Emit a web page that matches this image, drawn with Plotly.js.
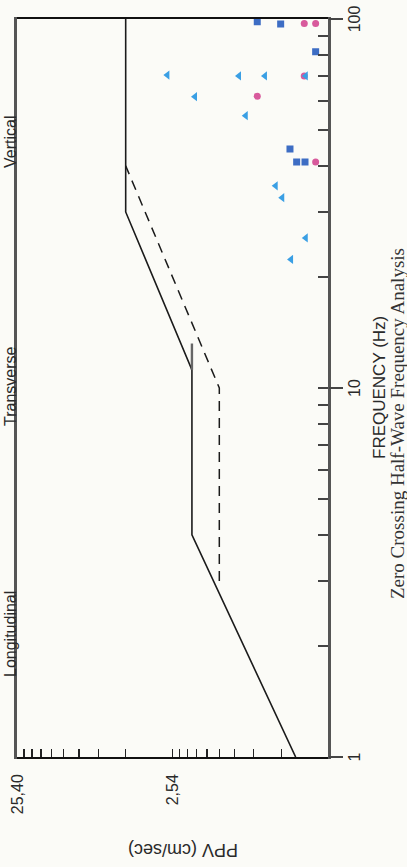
<!DOCTYPE html>
<html>
<head>
<meta charset="utf-8">
<script src="https://cdn.plot.ly/plotly-3.0.1.min.js"></script>
<style>
  html, body { margin: 0; padding: 0; overflow: hidden; background: #fbfbf7; width: 407px; height: 867px; }
  #chart { position: absolute; left: 0; top: 0; width: 867px; height: 407px;
           transform-origin: 0 0; transform: translate(0px, 867px) rotate(-90deg); }
</style>
</head>
<body>
<div id="chart"></div>
<script>
// ---- data (frequency in Hz, PPV in cm/sec) ----
const freqTickVals = [1, 2, 3, 4, 5, 6, 7, 8, 9, 10, 20, 30, 40, 50, 60, 70, 80, 90, 100];
const freqTickText = ['1', '', '', '', '', '', '', '', '', '10', '', '', '', '', '', '', '', '', '100'];
const freqMajorVals = [1, 10, 100];

const ppvTickVals = [25.4, 22.86, 20.32, 17.78, 15.24, 12.7, 10.16, 7.62, 5.08,
                     2.54, 2.286, 2.032, 1.778, 1.524, 1.27, 1.016, 0.762, 0.508];
const ppvTickText = ['25,40', '', '', '', '', '', '', '', '',
                     '2,54', '', '', '', '', '', '', '', ''];

const solidFreq = [1, 4, 11.2, 30, 100];
const solidPPV  = [0.41, 1.905, 1.905, 5.08, 5.08];
const spurFreq  = [11.2, 13.2];
const spurPPV   = [1.905, 1.905];
const dashFreq  = [3, 10, 40];
const dashPPV   = [1.27, 1.27, 5.08];

const squareFreq = [98.3, 96.9, 81.5, 44.4, 41.0, 41.0];
const squarePPV  = [0.724, 0.512, 0.305, 0.446, 0.404, 0.357];
const circleFreq = [97.2, 97.2, 61.8, 70.1, 41.0];
const circlePPV  = [0.361, 0.305, 0.724, 0.361, 0.305];
const triFreq = [70.5, 70.1, 70.1, 70.1, 61.6, 54.7, 35.3, 32.8, 25.5, 22.3];
const triPPV  = [2.74, 0.949, 0.646, 0.353, 1.82, 0.859, 0.551, 0.500, 0.353, 0.439];

const components = ['Longitudinal', 'Transverse', 'Vertical'];
const componentPos = [0.167, 0.503, 0.834];

const xTitle = 'FREQUENCY (Hz)';
const xSubTitle = 'Zero Crossing Half-Wave Frequency Analysis';
const yTitle = 'PPV (cm/sec)';

// ---- chart ----
const xRange = [Math.log10(1), Math.log10(100)];
const yRange = [Math.log10(0.254), Math.log10(25.4)];

const traces = [
  { x: solidFreq, y: solidPPV, mode: 'lines', line: { color: '#1b1b1b', width: 1.6 }, hoverinfo: 'skip' },
  { x: spurFreq, y: spurPPV, mode: 'lines', line: { color: '#666', width: 2.4 }, hoverinfo: 'skip' },
  { x: dashFreq, y: dashPPV, mode: 'lines', line: { color: '#1b1b1b', width: 1.5, dash: '10px,7px' }, hoverinfo: 'skip' },
  { x: squareFreq, y: squarePPV, mode: 'markers', marker: { symbol: 'square', size: 7, color: '#3d6dc4' } },
  { x: circleFreq, y: circlePPV, mode: 'markers', marker: { symbol: 'circle', size: 7, color: '#d85a9c' } },
  { x: triFreq, y: triPPV, mode: 'markers', xaxis: 'x2', marker: { symbol: 'triangle-up', size: 8, color: '#3a9fe4' } }
];

const tickFont = { family: 'Liberation Sans, Arial, sans-serif', size: 16, color: '#2a2a2a' };

const annotations = components.map((c, i) => ({
  text: c, xref: 'paper', yref: 'paper', x: componentPos[i], y: 1, xanchor: 'center', yanchor: 'bottom',
  showarrow: false, font: tickFont, yshift: -3, borderpad: 0
}));
annotations.push({
  text: xTitle, xref: 'paper', yref: 'paper', x: 0.5, y: 0, xanchor: 'center', yanchor: 'middle',
  yshift: -51, showarrow: false, font: { family: 'Liberation Sans, Arial, sans-serif', size: 17, color: '#2a2a2a' }
});
annotations.push({
  text: xSubTitle, xref: 'paper', yref: 'paper', x: 0.452, y: 0, xanchor: 'center', yanchor: 'middle',
  yshift: -69, showarrow: false, font: { family: 'Liberation Serif, Times New Roman, serif', size: 19, color: '#333' }
});
annotations.push({
  text: yTitle, xref: 'paper', yref: 'paper', x: 0, y: 0.466, xanchor: 'center', yanchor: 'middle',
  xshift: -93, textangle: -90, showarrow: false, font: { family: 'Liberation Sans, Arial, sans-serif', size: 18, color: '#2a2a2a' }
});

const layout = {
  width: 867, height: 407,
  margin: { l: 110, r: 19, t: 17, b: 79, pad: 0 },
  paper_bgcolor: '#fbfbf7', plot_bgcolor: '#fbfbf7',
  showlegend: false,
  xaxis: {
    type: 'log', range: xRange, tickmode: 'array', tickvals: freqTickVals, ticktext: freqTickText,
    ticks: 'inside', ticklen: 10, tickwidth: 1.5, tickcolor: '#444',
    showgrid: false, zeroline: false, showline: true, linecolor: '#555', linewidth: 3, mirror: true,
    tickfont: tickFont, ticklabelstandoff: 10
  },
  xaxis2: {
    type: 'log', range: xRange, overlaying: 'x', anchor: 'y', side: 'bottom',
    tickmode: 'array', tickvals: freqMajorVals, ticks: 'outside', ticklen: 14, tickwidth: 1.5, tickcolor: '#444',
    showticklabels: false, showgrid: false, zeroline: false, showline: false
  },
  yaxis: {
    type: 'log', range: yRange, tickmode: 'array', tickvals: ppvTickVals, ticktext: ppvTickText,
    ticks: 'inside', ticklen: 8, tickwidth: 1.3, tickcolor: '#222',
    showgrid: false, zeroline: false, showline: true, linecolor: '#111', linewidth: 2, mirror: true,
    tickfont: tickFont, ticklabelstandoff: 12
  },
  annotations: annotations
};

Plotly.newPlot('chart', traces, layout, { staticPlot: true, displayModeBar: false });
</script>
</body>
</html>
